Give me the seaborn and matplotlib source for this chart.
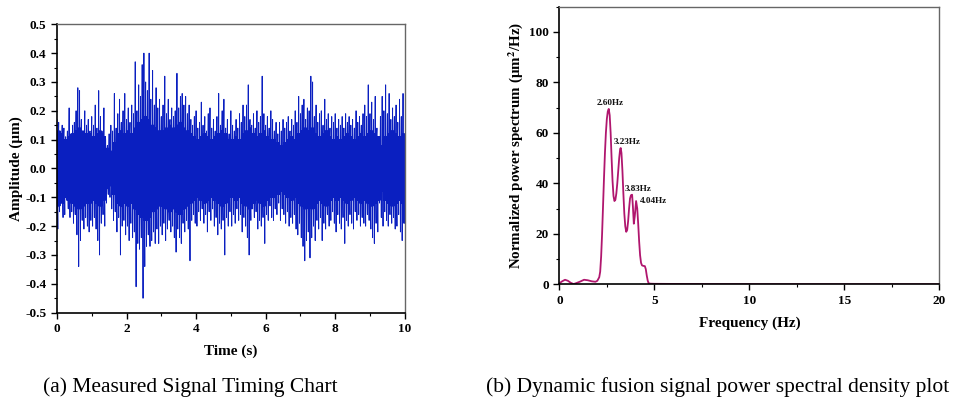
import numpy as np
import pandas as pd
import matplotlib
matplotlib.use("Agg")
import matplotlib.pyplot as plt
from matplotlib.ticker import MultipleLocator
import seaborn as sns

# ---------------- data: (a) measured signal, envelope read at 0.05 s steps ----------------
time_step = 0.05
upper_peaks = [
    0.17, 0.16, 0.12, 0.15, 0.14, 0.11, 0.13, 0.21, 0.12, 0.15,
    0.16, 0.20, 0.28, 0.27, 0.17, 0.13, 0.20, 0.15, 0.17, 0.13,
    0.18, 0.15, 0.22, 0.14, 0.27, 0.18, 0.12, 0.21, 0.10, 0.08,
    0.12, 0.15, 0.13, 0.26, 0.14, 0.19, 0.24, 0.16, 0.20, 0.26,
    0.17, 0.21, 0.16, 0.22, 0.19, 0.37, 0.20, 0.29, 0.25, 0.36,
    0.40, 0.30, 0.27, 0.40, 0.24, 0.34, 0.22, 0.28, 0.21, 0.24,
    0.18, 0.22, 0.32, 0.19, 0.24, 0.17, 0.21, 0.18, 0.20, 0.33,
    0.21, 0.25, 0.26, 0.22, 0.25, 0.19, 0.22, 0.17, 0.15, 0.18,
    0.20, 0.14, 0.16, 0.23, 0.15, 0.18, 0.13, 0.19, 0.21, 0.14,
    0.17, 0.13, 0.18, 0.26, 0.15, 0.20, 0.24, 0.14, 0.17, 0.12,
    0.20, 0.15, 0.13, 0.17, 0.14, 0.19, 0.16, 0.22, 0.18, 0.22,
    0.29, 0.17, 0.15, 0.19, 0.14, 0.20, 0.16, 0.18, 0.32, 0.19,
    0.15, 0.18, 0.14, 0.20, 0.17, 0.13, 0.16, 0.12, 0.16, 0.13,
    0.17, 0.14, 0.16, 0.18, 0.13, 0.17, 0.15, 0.20, 0.16, 0.25,
    0.19, 0.22, 0.24, 0.17, 0.21, 0.20, 0.32, 0.30, 0.18, 0.22,
    0.16, 0.19, 0.20, 0.15, 0.24, 0.17, 0.19, 0.14, 0.18, 0.16,
    0.19, 0.14, 0.17, 0.15, 0.18, 0.14, 0.19, 0.16, 0.18, 0.15,
    0.17, 0.14, 0.20, 0.16, 0.18, 0.15, 0.19, 0.22, 0.18, 0.29,
    0.19, 0.23, 0.17, 0.25, 0.14, 0.10, 0.18, 0.25, 0.20, 0.29,
    0.19, 0.26, 0.17, 0.21, 0.18, 0.22, 0.16, 0.24, 0.18, 0.26,
]
lower_peaks = [
    -0.21, -0.15, -0.12, -0.17, -0.16, -0.11, -0.14, -0.17, -0.15, -0.19,
    -0.16, -0.23, -0.34, -0.25, -0.18, -0.21, -0.17, -0.20, -0.22, -0.18,
    -0.20, -0.17, -0.21, -0.25, -0.30, -0.19, -0.16, -0.20, -0.12, -0.09,
    -0.10, -0.14, -0.18, -0.15, -0.22, -0.17, -0.30, -0.20, -0.18, -0.23,
    -0.20, -0.25, -0.19, -0.24, -0.22, -0.41, -0.26, -0.28, -0.24, -0.45,
    -0.34, -0.27, -0.23, -0.27, -0.25, -0.22, -0.26, -0.21, -0.26, -0.20,
    -0.23, -0.19, -0.25, -0.21, -0.18, -0.22, -0.20, -0.24, -0.29, -0.21,
    -0.24, -0.26, -0.19, -0.22, -0.18, -0.21, -0.32, -0.18, -0.16, -0.19,
    -0.20, -0.15, -0.18, -0.14, -0.19, -0.16, -0.22, -0.15, -0.18, -0.14,
    -0.20, -0.17, -0.23, -0.19, -0.21, -0.18, -0.30, -0.17, -0.20, -0.15,
    -0.20, -0.16, -0.19, -0.14, -0.18, -0.16, -0.22, -0.17, -0.20, -0.24,
    -0.30, -0.18, -0.14, -0.17, -0.15, -0.21, -0.18, -0.20, -0.17, -0.26,
    -0.16, -0.18, -0.13, -0.17, -0.18, -0.14, -0.16, -0.12, -0.18, -0.14,
    -0.16, -0.19, -0.15, -0.20, -0.17, -0.19, -0.16, -0.21, -0.23, -0.19,
    -0.24, -0.27, -0.32, -0.25, -0.22, -0.31, -0.24, -0.20, -0.25, -0.18,
    -0.21, -0.17, -0.25, -0.19, -0.21, -0.16, -0.20, -0.18, -0.15, -0.19,
    -0.22, -0.16, -0.19, -0.21, -0.17, -0.26, -0.18, -0.20, -0.16, -0.19,
    -0.21, -0.15, -0.18, -0.16, -0.20, -0.17, -0.19, -0.20, -0.16, -0.18,
    -0.21, -0.24, -0.26, -0.19, -0.22, -0.12, -0.17, -0.20, -0.15, -0.18,
    -0.20, -0.16, -0.19, -0.17, -0.21, -0.20, -0.16, -0.22, -0.25, -0.19,
]
# half-width of the solid central band, read every 0.1 s
core_step = 0.1
core_band = [
    0.13, 0.12, 0.10, 0.11, 0.12, 0.13, 0.14, 0.13, 0.12, 0.12,
    0.11, 0.12, 0.13, 0.11, 0.07, 0.06, 0.09, 0.12, 0.13, 0.12,
    0.13, 0.12, 0.14, 0.16, 0.17, 0.18, 0.17, 0.15, 0.14, 0.13,
    0.13, 0.14, 0.15, 0.14, 0.15, 0.16, 0.14, 0.13, 0.12, 0.11,
    0.10, 0.11, 0.12, 0.11, 0.10, 0.11, 0.12, 0.13, 0.12, 0.10,
    0.10, 0.11, 0.10, 0.12, 0.13, 0.14, 0.12, 0.11, 0.12, 0.13,
    0.11, 0.10, 0.10, 0.09, 0.08, 0.09, 0.10, 0.11, 0.10, 0.12,
    0.13, 0.14, 0.13, 0.14, 0.12, 0.11, 0.12, 0.13, 0.11, 0.10,
    0.11, 0.10, 0.11, 0.12, 0.11, 0.10, 0.11, 0.12, 0.11, 0.12,
    0.13, 0.12, 0.11, 0.08, 0.11, 0.12, 0.13, 0.12, 0.11, 0.12,
]

# ---------------- data: (b) power spectrum ----------------
freq_hz = [0, 0.15, 0.3, 0.45, 0.6, 0.75, 0.9, 1.1, 1.3, 1.5, 1.7, 1.9, 2.0, 2.1,
           2.15, 2.2, 2.25, 2.3, 2.35, 2.4, 2.45, 2.5, 2.55, 2.6, 2.65, 2.7, 2.75,
           2.8, 2.85, 2.9, 2.95, 3.0, 3.05, 3.1, 3.15, 3.2, 3.23, 3.27, 3.32, 3.37,
           3.42, 3.47, 3.52, 3.57, 3.62, 3.67, 3.72, 3.77, 3.83, 3.87, 3.92, 3.97,
           4.04, 4.1, 4.15, 4.2, 4.25, 4.3, 4.35, 4.42, 4.5, 4.55, 4.6, 4.65, 4.7,
           4.8, 5.0, 6, 8, 10, 12, 15, 18, 20]
power = [0.4, 1.2, 1.8, 1.4, 0.6, 0.1, 0.5, 1.1, 1.8, 1.6, 1.2, 1.0, 1.4, 2.8,
         5, 11, 20, 31, 42, 52, 60, 65.5, 68.5, 69.5, 67, 60, 50,
         41, 35, 33, 33.5, 36, 40, 45, 50, 53.5, 54, 52, 45, 36,
         28, 23, 20.8, 21.5, 25, 30, 34, 35.3, 35.5, 31, 24, 27,
         33, 30, 24, 17, 11.5, 8.5, 7.5, 7.3, 7.2, 6, 3.5, 1.5, 0.4,
         0.25, 0.2, 0.15, 0.1, 0.08, 0.05, 0.03, 0.02, 0.02]
peak_labels = ["2.60Hz", "3.23Hz", "3.83Hz", "4.04Hz"]
peak_freqs = [2.60, 3.23, 3.83, 4.04]
peak_values = [69.5, 54, 35.5, 33]

# ---------------- build signal table ----------------
sig_t, sig_v = [], []
sub = time_step / 8
for i, (u, l) in enumerate(zip(upper_peaks, lower_peaks)):
    t0 = i * time_step
    c1 = core_band[min(int(round(t0 / core_step, 6)), len(core_band) - 1)]
    seq = [u, -c1, c1, -c1, l, c1, -c1, c1]
    for k, v in enumerate(seq):
        sig_t.append(t0 + k * sub)
        sig_v.append(v)
sig_t.append(10.0)
sig_v.append(lower_peaks[-1])
sig_df = pd.DataFrame({"t": sig_t, "amp": sig_v})
psd_df = pd.DataFrame({"f": freq_hz, "p": power})

sns.set_theme(style="ticks")
plt.rcParams["font.family"] = ["Liberation Serif", "DejaVu Serif"]
plt.rcParams["mathtext.fontset"] = "stix"
for key in ["text.color", "axes.labelcolor", "xtick.color", "ytick.color", "axes.edgecolor"]:
    plt.rcParams[key] = "black"

fig = plt.figure(figsize=(9.77, 4.05), dpi=100)
ax1 = fig.add_axes([0.0583, 0.228, 0.356, 0.712])
ax2 = fig.add_axes([0.5725, 0.298, 0.389, 0.6855])

sns.lineplot(data=sig_df, x="t", y="amp", ax=ax1, color="#0a1fc0",
             linewidth=0.65, estimator=None, sort=False)
sns.lineplot(data=psd_df, x="f", y="p", ax=ax2, color="#b0166e",
             linewidth=1.3, estimator=None, sort=False)

label_offsets = [(0.1, 2.3), (0.35, 2.3), (0.3, 2.3), (0.9, 0.2)]
for lab, f, v, (dx, dy) in zip(peak_labels, peak_freqs, peak_values, label_offsets):
    ax2.text(f + dx, v + dy, lab, ha="center", va="center", fontsize=6.6,
             fontweight="bold", color="#111111")

def style(ax):
    for s in ["left", "bottom"]:
        ax.spines[s].set_color("black")
        ax.spines[s].set_linewidth(1.2)
    for s in ["top", "right"]:
        ax.spines[s].set_color("#666666")
        ax.spines[s].set_linewidth(1.0)
    ax.tick_params(which="major", direction="out", length=4, width=1.0,
                   labelsize=9.5, top=False, right=False, color="black")
    ax.tick_params(which="minor", direction="out", length=2.2, width=0.8,
                   top=False, right=False, color="black")
    for lbl in ax.get_xticklabels() + ax.get_yticklabels():
        lbl.set_fontweight("bold")

yt = np.round(np.arange(-0.5, 0.51, 0.1), 1)
ax1.set_xlim(0, 10)
ax1.set_ylim(-0.5, 0.5)
ax1.xaxis.set_major_locator(MultipleLocator(2))
ax1.xaxis.set_minor_locator(MultipleLocator(1))
ax1.set_yticks(yt)
ax1.set_yticklabels([f"{abs(v):.1f}" if abs(v) < 1e-9 else f"{v:.1f}" for v in yt])
ax1.yaxis.set_minor_locator(MultipleLocator(0.05))
ax1.set_xlabel("Time (s)", fontsize=11, fontweight="bold", labelpad=7)
ax1.set_ylabel("Amplitude (μm)", fontsize=11, fontweight="bold", labelpad=2)
style(ax1)

ax2.set_xlim(0, 20)
ax2.set_ylim(0, 110)
ax2.xaxis.set_major_locator(MultipleLocator(5))
ax2.xaxis.set_minor_locator(MultipleLocator(2.5))
ax2.set_yticks([0, 20, 40, 60, 80, 100])
ax2.yaxis.set_minor_locator(MultipleLocator(10))
ax2.set_xlabel("Frequency (Hz)", fontsize=11, fontweight="bold", labelpad=7)
ax2.set_ylabel("Normalized power spectrum (μm$^\\mathbf{2}$/Hz)", fontsize=10.8,
               fontweight="bold", labelpad=3)
style(ax2)

fig.text(190 / 977, 1 - 387 / 405, "(a) Measured Signal Timing Chart",
         ha="center", va="center", fontsize=15.5)
fig.text(718 / 977, 1 - 387 / 405, "(b) Dynamic fusion signal power spectral density plot",
         ha="center", va="center", fontsize=15.5)

fig.savefig("out.png", dpi=100)
